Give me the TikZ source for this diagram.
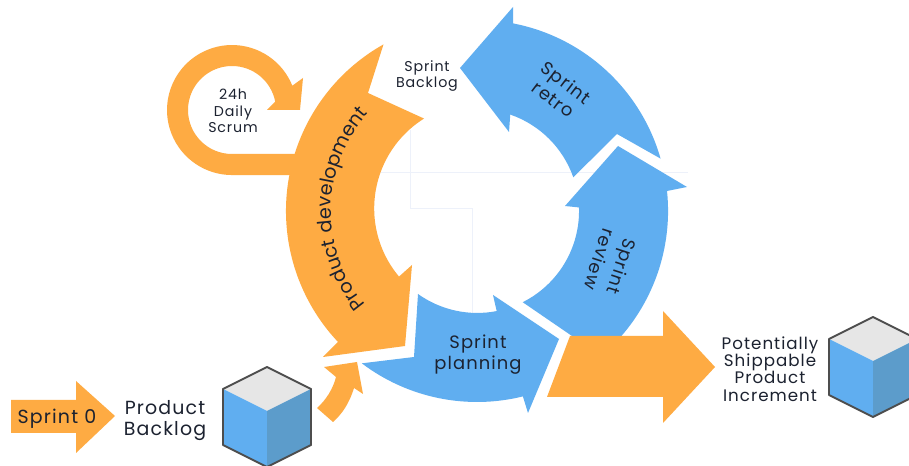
\documentclass[tikz,border=0pt]{standalone}
\usepackage{fontspec}
\setmainfont[LetterSpace=6]{Poppins}
\usepackage{tikz}
\usetikzlibrary{decorations.text}
\definecolor{ArrowOrange}{HTML}{FEAB43}
\definecolor{ArrowBlue}{HTML}{60AEF0}
\definecolor{CubeTop}{HTML}{E6E6E6}
\definecolor{CubeSide}{HTML}{5C9CCB}
\definecolor{CubeEdge}{HTML}{4D4D4D}
\definecolor{GuideLine}{HTML}{EDF1FA}
\definecolor{LabelInk}{HTML}{1C2230}
\tikzset{
    orangearrow/.style={fill=ArrowOrange},
    bluearrow/.style={fill=ArrowBlue},
    label text/.style={text=LabelInk, align=center, inner sep=0pt, font=\fontsize{9.5}{9.9}\selectfont},
    small text/.style={label text, font=\fontsize{8.1}{9.3}\selectfont},
    backlog text/.style={label text, font=\fontsize{8.1}{9.6}\selectfont},
    big text/.style={label text, font=\fontsize{10.2}{12}\selectfont},
    wide text/.style={label text, font=\fontsize{10.8}{12}\selectfont},
}
\begin{document}
\begin{tikzpicture}[x=0.02cm, y=0.02cm]
        \clip (0,0) rectangle (909,466);
        \fill[white] (0,0) rectangle (909,466);

        % faint guide lines behind the cycle
        \draw[GuideLine, line width=0.3pt] (380,294) -- (688,294);
        \draw[GuideLine, line width=0.3pt] (410,336) -- (410,258) -- (472,258) -- (472,153);

        % daily scrum loop
        \fill[orangearrow] (300,312) -- (232,312) arc[start angle=270, end angle=11, radius=44]
            -- (267,356) -- (300,356) -- (303,388) -- (292.3,380.3)
            arc[start angle=22, end angle=270, radius=65] -- (300,291) -- cycle;

        % product development
        \fill[orangearrow] (383.5,421.6) arc[start angle=119.3, end angle=223.3, radius=191]
            -- (323,109) -- (405,120) -- (412,201) -- (399,189.4)
            arc[start angle=220, end angle=122, radius=106] -- (368,373) -- cycle;

        % sprint retro
        \fill[bluearrow] (460,398) -- (513,459) -- (513,442.6)
            arc[start angle=79.1, end angle=15.9, radius=191]
            -- (617,332) -- (573.3,288.7) arc[start angle=19.3, end angle=71, radius=102]
            -- (509,334) -- cycle;

        % sprint review
        \fill[bluearrow] (618,320) -- (687,279) -- (667,275)
            arc[start angle=6, end angle=-40.8, radius=191]
            -- (572,130) -- (522.7,163.8) arc[start angle=-63.4, end angle=2, radius=102]
            -- (565,260) -- cycle;

        % sprint planning
        \fill[bluearrow] (418,172) arc[start angle=234.5, end angle=281, radius=102]
            -- (493,171) -- (559,127) -- (528,53) -- (522.9,69.6)
            arc[start angle=283.9, end angle=232.9, radius=191]
            -- (414,109) -- cycle;

        % the increment arrow
        \fill[orangearrow] (570,130) -- (663,130) -- (663,155) -- (715,99) -- (663,43) -- (663,69) -- (547,69) -- cycle;

        % backlog feeding the cycle
        \fill[orangearrow] (324,99) -- (357,104) -- (363,72) -- (354,78)
            .. controls (349,62) and (342,52) .. (333,44) -- (317,58)
            .. controls (326,66) and (333,77) .. (336,89) -- cycle;

        % sprint 0
        \fill[orangearrow] (11,66) -- (76,66) -- (76,85) -- (115,50) -- (76,13) -- (76,33) -- (11,33) -- cycle;

        % the two cubes
        \foreach \x/\y in {267/55, 873/105}{
            \begin{scope}[shift={(\x,\y)}]
                \fill[CubeTop] (0,0) -- (-44,22) -- (0,44) -- (44,22) -- cycle;
                \fill[ArrowBlue] (0,0) -- (-44,22) -- (-44,-34) -- (0,-56) -- cycle;
                \fill[CubeSide] (0,0) -- (44,22) -- (44,-34) -- (0,-56) -- cycle;
                \draw[CubeEdge, line width=1.1pt, line join=round] (0,44) -- (44,22) -- (44,-34) -- (0,-56) -- (-44,-34) -- (-44,22) -- cycle;
            \end{scope}
        }

        % curved label on the big orange arrow
        \path[decorate, decoration={text along path, text align=center,
              text={|\fontsize{10.9}{12}\selectfont\color{LabelInk}|Product development}}]
            (366,160.2) arc[start angle=220.5, end angle=137.5, radius=146];

        % labels
        \node[small text] (dailyscrum) at (233,355) {24h\\Daily\\Scrum};
        \node[backlog text] (sprintbacklog) at (427,390) {Sprint\\Backlog};
        \node[big text, rotate=-37] (sprintretro) at (560,375) {Sprint\\retro};
        \node[big text, rotate=-108, font=\fontsize{10.2}{13.4}\selectfont] (sprintreview) at (611,203) {Sprint\\review};
        \node[big text] (sprintplanning) at (478,111) {Sprint\\planning};
        \node[wide text] (sprintzero) at (57,47) {Sprint 0};
        \node[wide text] (productbacklog) at (165,45) {Product\\Backlog};
        \node[label text] (increment) at (770,97) {Potentially\\Shippable\\Product\\Increment};
    \end{tikzpicture}
\end{document}
